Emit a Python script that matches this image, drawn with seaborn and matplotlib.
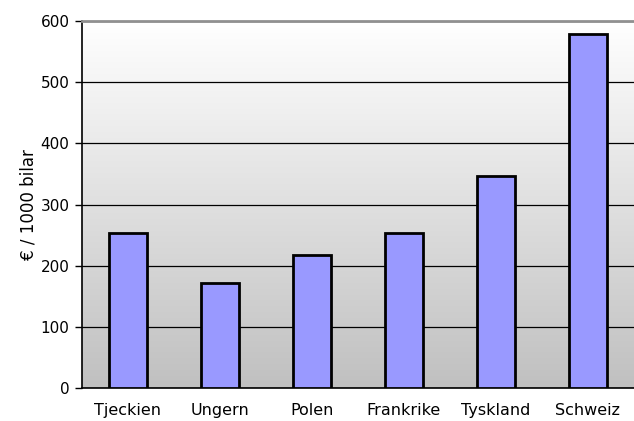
import numpy as np
import pandas as pd
import matplotlib
matplotlib.use("Agg")
import matplotlib.pyplot as plt
import seaborn as sns

countries = ["Tjeckien", "Ungern", "Polen", "Frankrike", "Tyskland", "Schweiz"]
values = [253, 172, 217, 253, 347, 579]

df = pd.DataFrame({"land": countries, "kostnad": values})

sns.set_style("white")
plt.rcParams["font.family"] = ["DejaVu Sans"]
plt.rcParams["text.color"] = "black"
plt.rcParams["xtick.color"] = "black"
plt.rcParams["ytick.color"] = "black"
plt.rcParams["axes.labelcolor"] = "black"

fig = plt.figure(figsize=(6.34, 4.21), dpi=100)
ax = fig.add_axes([0.1293, 0.0784, 0.8707, 0.8717])

# vertical grey gradient behind the bars
grad = np.linspace(1.0, 0.0, 256).reshape(-1, 1)
cmap = matplotlib.colors.LinearSegmentedColormap.from_list("bg", ["#c0c0c0", "#ffffff"])
ax.imshow(grad, aspect="auto", cmap=cmap, extent=[-0.5, 5.5, 0, 600],
          origin="upper", zorder=0)

sns.barplot(data=df, x="land", y="kostnad", color="#9999ff", width=0.42,
            edgecolor="black", linewidth=2, saturation=1, ax=ax, zorder=3)

ax.set_xlim(-0.5, 5.5)
ax.set_ylim(0, 600)
ax.set_yticks(range(0, 601, 100))
ax.yaxis.grid(True, color="black", linewidth=0.9, zorder=1)
ax.set_axisbelow(True)

# ticks between categories on the x axis
ax.set_xticks(np.arange(-0.5, 5.6, 1.0), minor=False)
ax.set_xticklabels([])
ax.set_xticks(range(len(countries)), minor=True)
ax.set_xticklabels(countries, minor=True, fontsize=11.5)
ax.tick_params(axis="x", which="minor", length=0, pad=11)
ax.tick_params(axis="x", which="major", direction="out", length=5, width=1, color="black")
ax.tick_params(axis="y", direction="out", length=5, width=1, color="black",
               labelsize=11, left=True, pad=4)

ax.set_xlabel("")
ax.set_ylabel("€ / 1000 bilar", fontsize=12, labelpad=2)

for s in ["left", "bottom"]:
    ax.spines[s].set_color("black")
    ax.spines[s].set_linewidth(1.2)
ax.spines["top"].set_color("#909090")
ax.spines["top"].set_linewidth(2)
ax.spines["right"].set_visible(False)

fig.savefig("out.png", dpi=100)
